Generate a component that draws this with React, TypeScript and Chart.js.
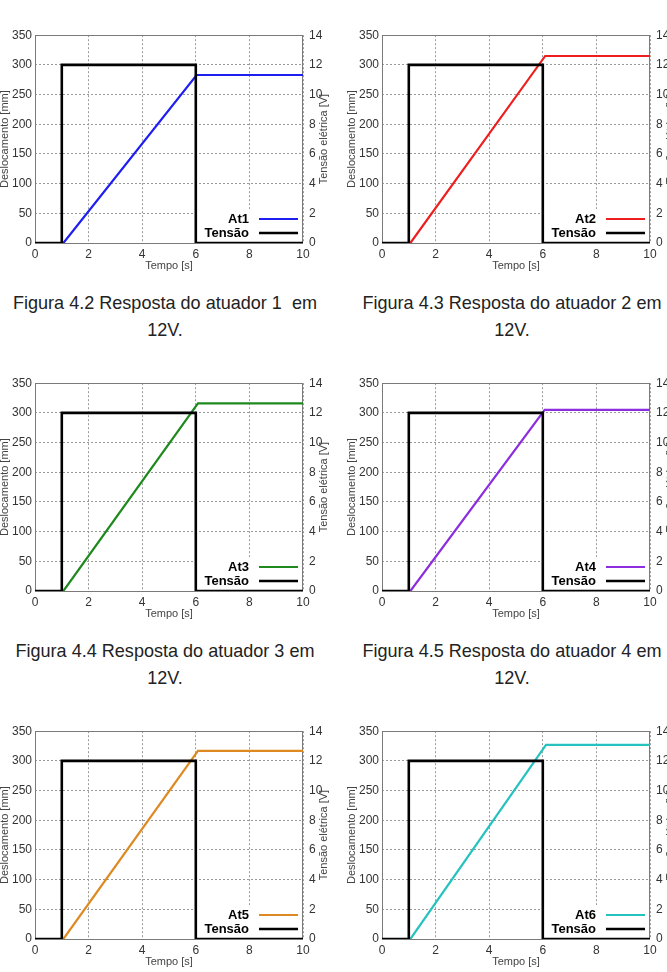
import React, { useEffect, useRef } from "react";
import { Chart, registerables } from "chart.js";

Chart.register(...registerables);

// ---------------- data ----------------
const tensaoTime = [0, 1, 1, 6, 6, 10];
const tensaoVolts = [0, 0, 12, 12, 0, 0];

const actuatorNames = ["At1", "At2", "At3", "At4", "At5", "At6"];
const rampStartTime = [1.06, 1.06, 1.06, 1.06, 1.06, 1.06];
const rampEndTime = [6.03, 6.09, 6.08, 6.07, 6.08, 6.12];
const finalDisplacement = [283, 315, 316, 305, 317, 327];

const timeMin = 0;
const timeMax = 10;
const timeStep = 2;
const dispMin = 0;
const dispMax = 350;
const dispStep = 50;
const voltMin = 0;
const voltMax = 14;
const voltStep = 2;

const xTitle = "Tempo [s]";
const yTitle = "Deslocamento [mm]";
const y2Title = "Tensão elétrica [V]";
const tensaoLabel = "Tensão";

const captionFirstLines = [
  "Figura 4.2 Resposta do atuador 1  em",
  "Figura 4.3 Resposta do atuador 2 em",
  "Figura 4.4 Resposta do atuador 3 em",
  "Figura 4.5 Resposta do atuador 4 em",
];
const captionSecondLine = "12V.";

// ---------------- styles / layout ----------------
const FONT = "'Liberation Sans', Arial, Helvetica, sans-serif";
const actuatorColors = ["#1e1ef0", "#ee1e1e", "#1e8a1e", "#8c2ee0", "#de8a22", "#26c2c0"];
const panelPos = [
  { left: 0, top: 22 },
  { left: 347, top: 22 },
  { left: 0, top: 370 },
  { left: 347, top: 370 },
  { left: 0, top: 718 },
  { left: 347, top: 718 },
];
const CANVAS_W = 333;
const CANVAS_H = 251;
const captionPos = [
  { cx: 165, y1: 303, y2: 330 },
  { cx: 512, y1: 303, y2: 330 },
  { cx: 165, y1: 651, y2: 678 },
  { cx: 512, y1: 651, y2: 678 },
];

const decorPlugin = {
  id: "panelDecor",
  beforeDatasetsDraw(chart: any) {
    const { ctx, chartArea } = chart;
    const { left, right, top, bottom } = chartArea;
    ctx.save();
    ctx.fillStyle = "#ffffff";
    ctx.fillRect(right - 104, bottom - 34, 103, 33);
    ctx.strokeStyle = "#7a7a7a";
    ctx.lineWidth = 1;
    ctx.strokeRect(Math.round(left) + 0.5, Math.round(top) + 0.5, Math.round(right - left) - 1, Math.round(bottom - top));
    ctx.restore();
  },
  afterDatasetsDraw(chart: any, _args: any, opts: any) {
    const { ctx, chartArea } = chart;
    const { right, bottom } = chartArea;
    const entries = opts.entries || [];
    const rows = [bottom - 24, bottom - 10];
    ctx.save();
    ctx.font = `bold 13px ${FONT}`;
    ctx.textAlign = "right";
    ctx.textBaseline = "middle";
    entries.forEach((e: any, i: number) => {
      const y = rows[i];
      ctx.fillStyle = "#000";
      ctx.fillText(e.label, right - 54, y);
      ctx.strokeStyle = e.color;
      ctx.lineWidth = e.width;
      ctx.beginPath();
      ctx.moveTo(right - 44, y);
      ctx.lineTo(right - 5, y);
      ctx.stroke();
    });
    ctx.restore();
  },
  afterDraw(chart: any) {
    const { ctx, chartArea } = chart;
    const { right, top, bottom } = chartArea;
    ctx.save();
    ctx.translate(right + 21, (top + bottom) / 2);
    ctx.rotate(-Math.PI / 2);
    ctx.font = `11px ${FONT}`;
    ctx.fillStyle = "#444";
    ctx.textAlign = "center";
    ctx.textBaseline = "middle";
    ctx.fillText(y2Title, 0, 0);
    ctx.restore();
  },
};

function Panel({ index }: { index: number }) {
  const ref = useRef<HTMLCanvasElement | null>(null);

  useEffect(() => {
    if (!ref.current) return;
    const actPts = [
      { x: timeMin, y: 0 },
      { x: rampStartTime[index], y: 0 },
      { x: rampEndTime[index], y: finalDisplacement[index] },
      { x: timeMax, y: finalDisplacement[index] },
    ];
    const tenPts = tensaoTime.map((t, i) => ({ x: t, y: tensaoVolts[i] }));
    const tickFont = { family: FONT, size: 12 };
    const titleFont = { family: FONT, size: 11 };
    const gridCommon = { color: "#9a9a9a", lineWidth: 1, drawTicks: false };
    const chart = new Chart(ref.current, {
      type: "line",
      data: {
        datasets: [
          {
            label: tensaoLabel,
            data: tenPts,
            yAxisID: "y2",
            borderColor: "#000000",
            borderWidth: 2.6,
            pointRadius: 0,
            fill: false,
            tension: 0,
          },
          {
            label: actuatorNames[index],
            data: actPts,
            yAxisID: "y",
            borderColor: actuatorColors[index],
            borderWidth: 2.2,
            pointRadius: 0,
            fill: false,
            tension: 0,
          },
        ],
      },
      options: {
        animation: false,
        responsive: false,
        maintainAspectRatio: false,
        devicePixelRatio: 1,
        layout: { padding: { top: 10, left: 0, right: 0, bottom: 0 } },
        plugins: {
          legend: { display: false },
          tooltip: { enabled: false },
          panelDecor: {
            entries: [
              { label: actuatorNames[index], color: actuatorColors[index], width: 2.2 },
              { label: tensaoLabel, color: "#000000", width: 2.6 },
            ],
          },
        } as any,
        scales: {
          x: {
            type: "linear",
            position: "bottom",
            min: timeMin,
            max: timeMax,
            ticks: { stepSize: timeStep, font: tickFont, color: "#333", padding: 4, maxRotation: 0 },
            grid: gridCommon,
            border: { display: false, dash: [2, 2] },
            title: { display: true, text: xTitle, font: titleFont, color: "#444", padding: { top: 0, bottom: 0 } },
            afterFit: (s: any) => {
              s.height = 30;
            },
          },
          y: {
            type: "linear",
            position: "left",
            min: dispMin,
            max: dispMax,
            ticks: { stepSize: dispStep, font: tickFont, color: "#333", padding: 3 },
            grid: gridCommon,
            border: { display: false, dash: [2, 2] },
            title: { display: true, text: yTitle, font: titleFont, color: "#444", padding: { top: -2, bottom: 0 } },
            afterFit: (s: any) => {
              s.width = 35;
            },
          },
          y2: {
            type: "linear",
            position: "right",
            min: voltMin,
            max: voltMax,
            ticks: { stepSize: voltStep, font: tickFont, color: "#333", padding: 6 },
            grid: { drawOnChartArea: false, drawTicks: false },
            border: { display: false },
            afterFit: (s: any) => {
              s.width = 30;
            },
          },
        },
      } as any,
      plugins: [decorPlugin as any],
    });
    return () => chart.destroy();
  }, [index]);

  const pos = panelPos[index];
  return (
    <canvas
      ref={ref}
      width={CANVAS_W}
      height={CANVAS_H}
      style={{ position: "absolute", left: pos.left, top: pos.top, width: CANVAS_W, height: CANVAS_H }}
    />
  );
}

function Caption({ index }: { index: number }) {
  const p = captionPos[index];
  const lineStyle = (y: number): React.CSSProperties => ({
    position: "absolute",
    left: p.cx - 200,
    width: 400,
    top: y - 12,
    height: 24,
    lineHeight: "24px",
    textAlign: "center",
    fontFamily: FONT,
    fontSize: 19,
    color: "#222",
    whiteSpace: "pre",
    transform: "scaleX(0.95)",
  });
  return (
    <>
      <div style={lineStyle(p.y1)}>{captionFirstLines[index]}</div>
      <div style={lineStyle(p.y2)}>{captionSecondLine}</div>
    </>
  );
}

export default function App() {
  return (
    <div
      style={{
        position: "fixed",
        left: 0,
        top: 0,
        width: 667,
        height: 972,
        overflow: "hidden",
        background: "#ffffff",
      }}
    >
      {actuatorNames.map((_, i) => (
        <Panel key={i} index={i} />
      ))}
      {captionFirstLines.map((_, i) => (
        <Caption key={"c" + i} index={i} />
      ))}
    </div>
  );
}
